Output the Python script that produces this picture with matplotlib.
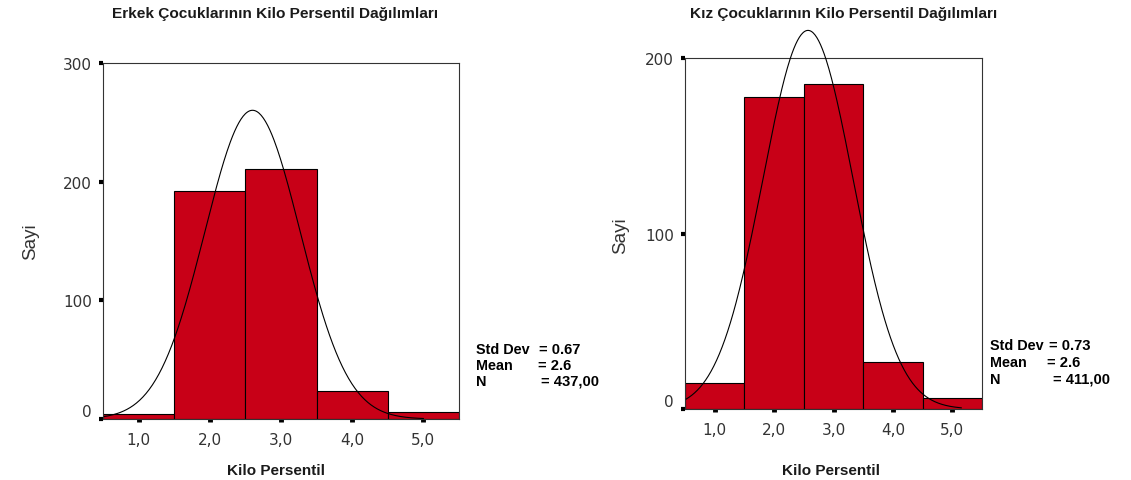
import numpy as np
import matplotlib
matplotlib.use("Agg")
import matplotlib.pyplot as plt

# bin centres of Kilo Persentil
bins = [1, 2, 3, 4, 5]
erkek_counts = [4, 192, 211, 24, 6]
kiz_counts = [15, 178, 185, 27, 6]

# values printed next to each chart
erkek_stats = {"sd": 0.67, "mean": 2.6, "n": 437}
kiz_stats = {"sd": 0.73, "mean": 2.6, "n": 411}

# normal curve as it appears in the picture (mean, sd, n)
erkek_curve = (2.6, 0.67, 437)
kiz_curve = (2.57, 0.76, 411)

erkek_title = "Erkek Çocuklarının Kilo Persentil Dağılımları"
kiz_title = "Kız Çocuklarının Kilo Persentil Dağılımları"
xtick_labels = ["1,0", "2,0", "3,0", "4,0", "5,0"]

BAR = "#c80017"
plt.rcParams['font.family'] = ['Liberation Sans', 'DejaVu Sans']

fig = plt.figure(figsize=(11.31, 4.81), dpi=100)
fig.patch.set_facecolor("white")

ax1 = fig.add_axes([0.0911, 0.1268, 0.3147, 0.740])
ax2 = fig.add_axes([0.6057, 0.1476, 0.2626, 0.7297])


def draw_hist(ax, counts, curve, ymax, yticks, curve_end):
    ax.bar(bins, counts, width=1.0, color=BAR, edgecolor="black", linewidth=0.8, zorder=2)
    mu, sd, n = curve
    xs = np.linspace(0.52, curve_end, 300)
    ys = n * np.exp(-0.5 * ((xs - mu) / sd) ** 2) / (sd * np.sqrt(2 * np.pi))
    ax.plot(xs, ys, color="black", linewidth=0.8, zorder=3, clip_on=False)
    ax.set_xlim(0.5, 5.5)
    ax.set_ylim(0, ymax)
    ax.set_xticks(bins)
    ax.set_xticklabels(xtick_labels, family="DejaVu Sans", fontsize=11, color="#333333")
    ax.set_yticks(yticks)
    ax.set_yticklabels([str(v) for v in yticks], family="DejaVu Sans", fontsize=11, color="#333333")
    ax.tick_params(axis="y", direction="out", length=3, width=3, pad=5, color="black")
    ax.tick_params(axis="x", direction="out", length=2, width=3.5, pad=7, color="black")
    for s in ax.spines.values():
        s.set_color("#333333")
        s.set_linewidth(0.8)
    ax.yaxis.get_major_ticks()[0].label1.set_va("bottom")


draw_hist(ax1, erkek_counts, erkek_curve, 300, [0, 100, 200, 300], 5.0)
draw_hist(ax2, kiz_counts, kiz_curve, 200, [0, 100, 200], 5.15)

W, H = 1131.0, 481.0


def ftext(x, y, s, **kw):
    fig.text(x / W, 1 - y / H, s, **kw)


ftext(275, 14, erkek_title, ha="center", va="center", fontsize=11.1, fontweight="bold", color="#1a1a1a")
ftext(844, 14, kiz_title, ha="center", va="center", fontsize=11.1, fontweight="bold", color="#1a1a1a")
ftext(276, 471, "Kilo Persentil", ha="center", va="center", fontsize=11, fontweight="bold", color="#1a1a1a")
ftext(831, 471, "Kilo Persentil", ha="center", va="center", fontsize=11, fontweight="bold", color="#1a1a1a")
ftext(31, 242, "Sayi", ha="center", va="center", rotation=90, fontsize=13.5, color="#333333")
ftext(621, 236, "Sayi", ha="center", va="center", rotation=90, fontsize=13.5, color="#333333")

# statistics boxes
for x0, xs_eq, ys, st in [
    (476, [539, 538, 541], [350, 366, 382], erkek_stats),
    (990, [1049, 1047, 1053], [346, 363, 380], kiz_stats),
]:
    labels = ["Std Dev", "Mean", "N"]
    values = ["= %.2f" % st["sd"], "= %.1f" % st["mean"], ("= %d,00" % st["n"])]
    for lab, val, xe, y in zip(labels, values, xs_eq, ys):
        ftext(x0, y, lab, ha="left", va="center", fontsize=10.4, fontweight="bold", color="black")
        ftext(xe, y, val, ha="left", va="center", fontsize=10.6, fontweight="bold", color="black")

fig.savefig("out.png", dpi=100, facecolor="white")
